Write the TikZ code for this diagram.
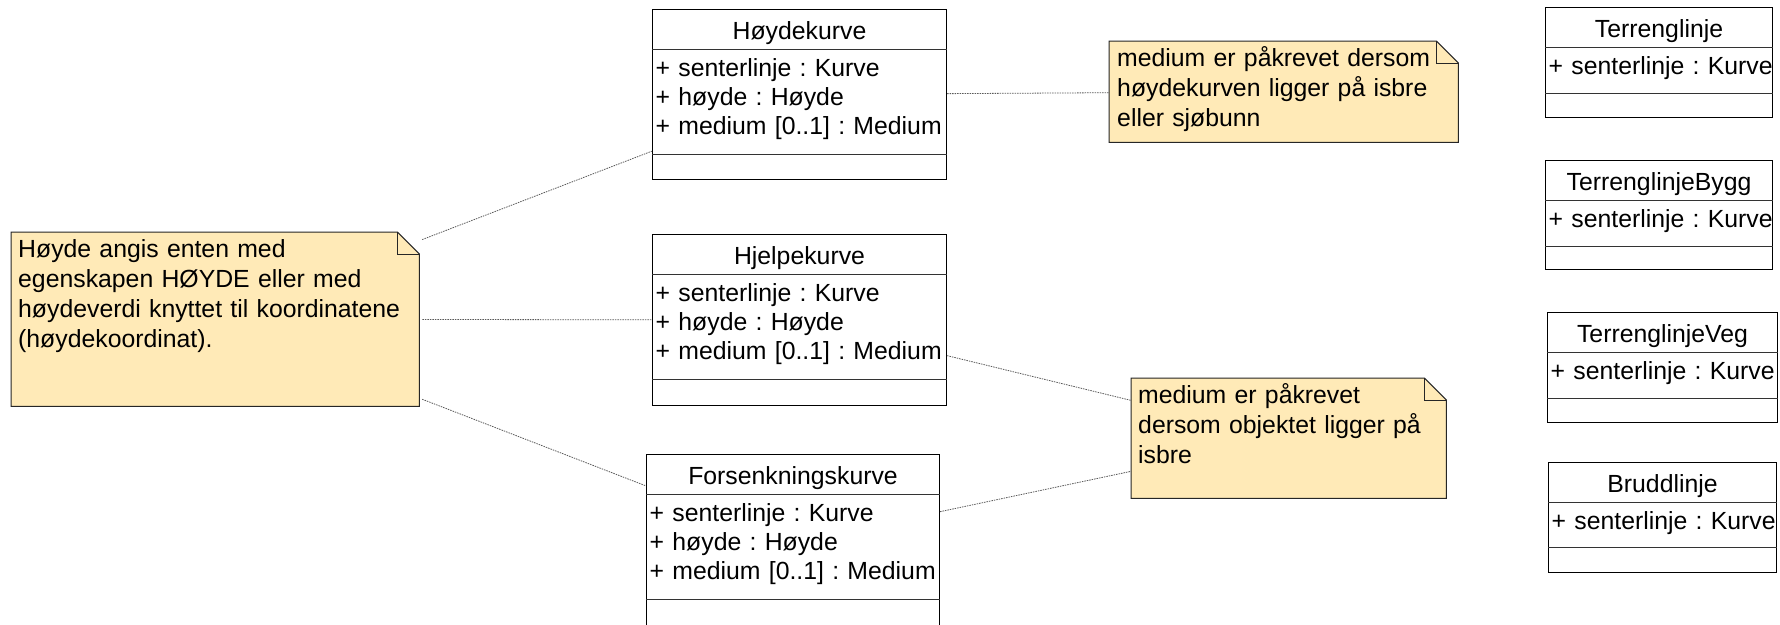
\documentclass[tikz,border=0pt]{standalone}
\usepackage{fontspec}
\setmainfont{Liberation Sans}
\usepackage{tikz}
\usetikzlibrary{positioning}
\definecolor{notefill}{RGB}{255,234,183}
\definecolor{linkgray}{RGB}{90,90,90}
\frenchspacing
\newcommand{\umlfont}{\fontsize{24.8pt}{29.3pt}\selectfont\frenchspacing}
% class box: id, top left, width, height, attribute part height, name, attributes
\newcommand{\umlclass}[7]{%
  \node[classbox, anchor=north west, minimum width=#3pt, minimum height=#4pt] (#1) at (#2) {};
  \node[classname] (#1name) at ([yshift=-30pt]#1.north) {#6};
  \draw[sepline] ([yshift=-40pt]#1.north west) -- ([yshift=-40pt]#1.north east);
  \draw[sepline] ([yshift=-40pt-#5pt]#1.north west) -- ([yshift=-40pt-#5pt]#1.north east);
  \node[classattr, text width=#3pt+40pt] (#1attr) at ([shift={(3.5pt,-67pt)}]#1.north west) {#7};
}

\begin{document}
\begin{tikzpicture}[x=1pt, y=-1pt, font=\umlfont,
  classbox/.style={draw=black, line width=1pt, inner sep=0pt},
  classname/.style={anchor=base, inner sep=0pt},
  classattr/.style={anchor=base west, inner sep=0pt, align=left},
  sepline/.style={draw=black!80, line width=0.8pt},
  note/.style={inner sep=0pt, anchor=north west},
  noteline/.style={draw=black!85, line width=1pt, fill=notefill},
  notetext/.style={anchor=base west, inner sep=0pt, align=left, font=\fontsize{24.8pt}{30pt}\selectfont\frenchspacing},
  link/.style={draw=linkgray, line width=0.8pt, dash pattern=on 1.5pt off 1pt}]
\useasboundingbox (0,0) rectangle (1780,624);

% classes
\umlclass{hoyde}{652,9}{294}{170}{105}{Høydekurve}{+ senterlinje : Kurve\\+ høyde : Høyde\\+ medium [0..1] : Medium}
\umlclass{hjelpe}{652,234}{294}{171}{105}{Hjelpekurve}{+ senterlinje : Kurve\\+ høyde : Høyde\\+ medium [0..1] : Medium}
\umlclass{forsenk}{646,454}{293}{176}{105}{Forsenkningskurve}{+ senterlinje : Kurve\\+ høyde : Høyde\\+ medium [0..1] : Medium}
\umlclass{terreng}{1545,7}{227}{110}{46}{Terrenglinje}{+ senterlinje : Kurve}
\umlclass{bygg}{1545,160}{227}{109}{46}{TerrenglinjeBygg}{+ senterlinje : Kurve}
\umlclass{veg}{1547,312}{230}{110}{46}{TerrenglinjeVeg}{+ senterlinje : Kurve}
\umlclass{brudd}{1548,462}{228}{110}{45}{Bruddlinje}{+ senterlinje : Kurve}

% notes
\node[note, minimum width=408pt, minimum height=174pt] (lnote) at (11,232) {};
\node[note, minimum width=349pt, minimum height=101pt] (tnote) at (1109,41) {};
\node[note, minimum width=315pt, minimum height=120pt] (bnote) at (1131,378) {};
\foreach \n in {lnote,tnote,bnote} {
  \draw[noteline] (\n.north west) -- ([xshift=-22pt]\n.north east) -- ([yshift=-22pt]\n.north east)
    -- (\n.south east) -- (\n.south west) -- cycle;
  \draw[noteline, fill=none] ([xshift=-22pt]\n.north east) |- ([yshift=-22pt]\n.north east);
}
\node[notetext, text width=395pt] (lnotetext) at ([shift={(7pt,-25pt)}]lnote.north west)
  {Høyde angis enten med\\egenskapen HØYDE eller med\\høydeverdi knyttet til koordinatene\\(høydekoordinat).};
\node[notetext, text width=335pt] (tnotetext) at ([shift={(8pt,-25pt)}]tnote.north west)
  {medium er påkrevet dersom\\høydekurven ligger på isbre\\eller sjøbunn};
\node[notetext, text width=300pt] (bnotetext) at ([shift={(7pt,-25pt)}]bnote.north west)
  {medium er påkrevet\\dersom objektet ligger på\\isbre};

% note links
\draw[link, shorten <=3pt] (lnote) -- (hoyde);
\draw[link, shorten <=3pt] (lnote) -- (hjelpe);
\draw[link, shorten <=3pt] (lnote) -- (forsenk);
\draw[link] (hoyde) -- (tnote);
\draw[link] (hjelpe) -- (bnote);
\draw[link] (forsenk) -- (bnote);
\end{tikzpicture}
\end{document}
